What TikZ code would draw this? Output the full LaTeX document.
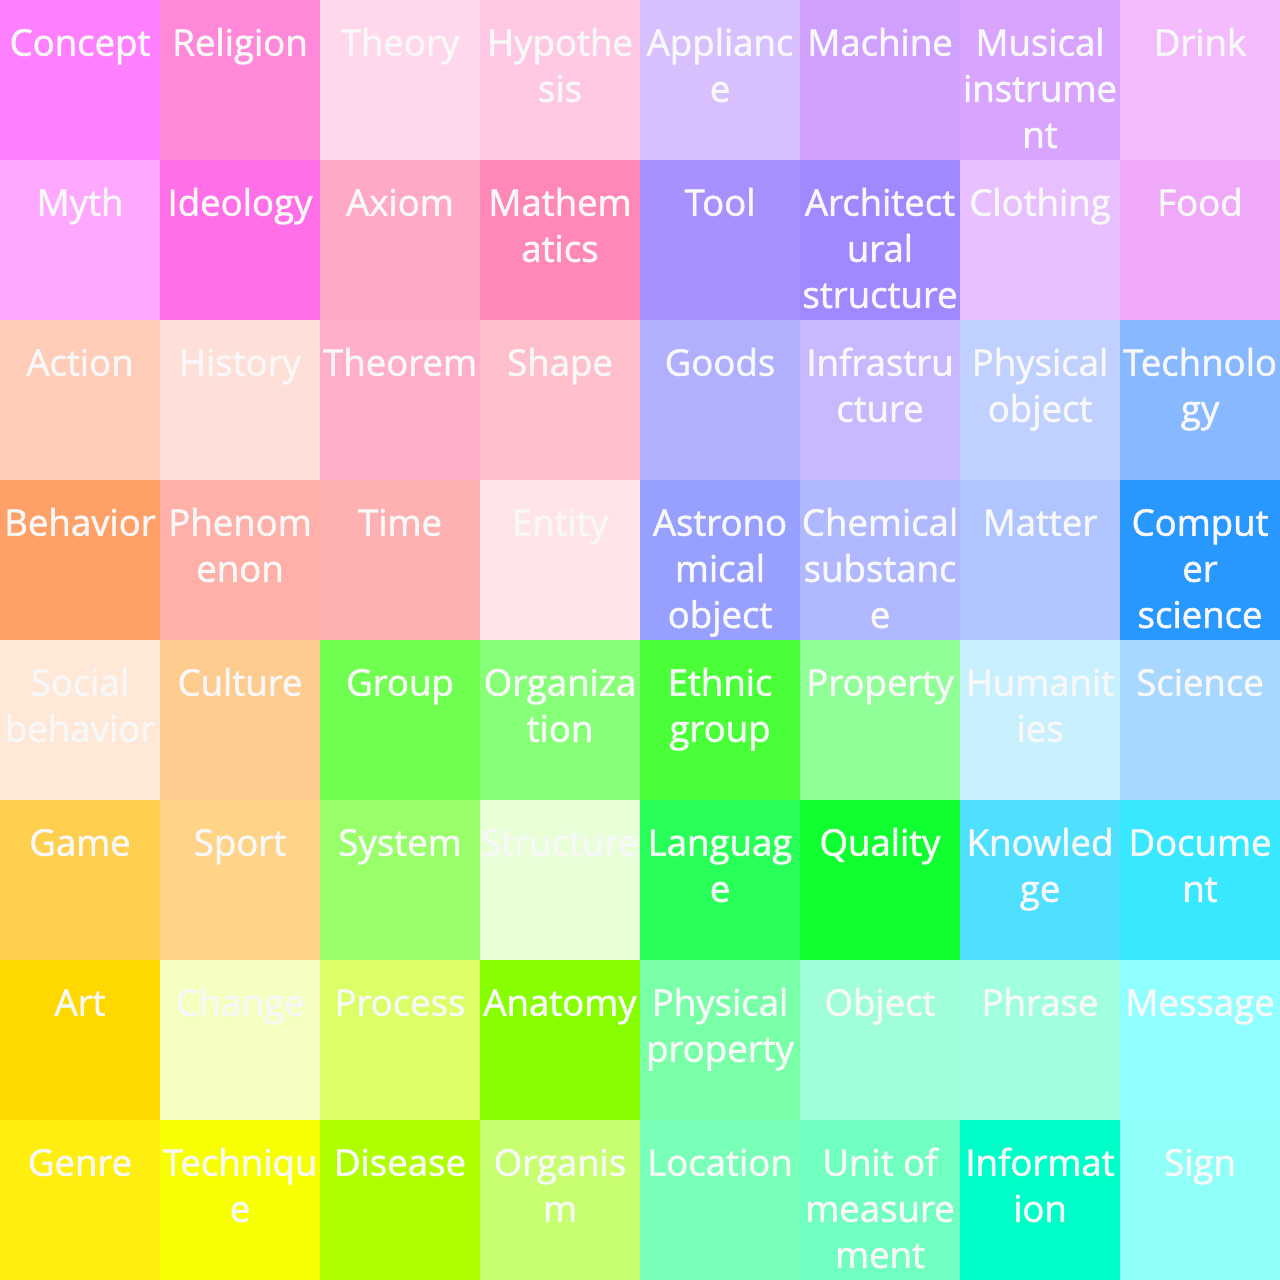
\documentclass[tikz,border=0pt]{standalone}
\usepackage{fontspec}
\usepackage{tikz}
\newfontfamily\cellfont{Open Sans}[BoldFont={Open Sans}, BoldFeatures={FakeBold=1.5}]
\definecolor{texte}{HTML}{F8F8F8}
\tikzset{
  case/.style={anchor=north, inner sep=0pt, align=center, text=texte,
    font=\cellfont\bfseries\fontsize{13}{16.4}\selectfont},
}

\begin{document}
\begin{tikzpicture}
    \useasboundingbox (0,0) rectangle (16,-16);
    % Grille : rangee, puis couleur/libelle de chaque case
    \foreach \j/\ligne in {
      0/{FF80FF/Concept, FF88D8/Religion, FFD8EE/Theory, FFC8E4/{Hypothe\\sis},
         D8C0FF/{Applianc\\e}, D0A0FF/Machine, D8A4FF/{Musical\\instrume\\nt}, F4BCFF/Drink},
      1/{FFA8FF/Myth, FF70E8/Ideology, FFA8C8/Axiom, FF88B8/{Mathem\\atics},
         A890FF/Tool, A088FF/{Architect\\ural\\structure}, E8C0FF/Clothing, F0A8F8/Food},
      2/{FFCCB8/Action, FFE0D8/History, FFB0C8/Theorem, FFC0CC/Shape,
         B0B0FF/Goods, C8B8FF/{Infrastru\\cture}, C0D0FF/{Physical\\object}, 88B8FF/{Technolo\\gy}},
      3/{FFA068/Behavior, FFB0A8/{Phenom\\enon}, FFB0B0/Time, FFE4E8/Entity,
         98A0FF/{Astrono\\mical\\object}, B0B8FF/{Chemical\\substanc\\e}, B0C4FF/Matter, 2898FF/{Comput\\er\\science}},
      4/{FFE8D8/{Social\\behavior}, FFCC90/Culture, 70FF50/Group, 88FF78/{Organiza\\tion},
         48FF38/{Ethnic\\group}, 90FF98/Property, C8F0FF/{Humanit\\ies}, A8D8FF/Science},
      5/{FFD050/Game, FFD488/Sport, 98FF68/System, E8FFD8/Structure,
         28FF58/{Languag\\e}, 10FF30/Quality, 50E0FF/{Knowled\\ge}, 38E8FF/{Docume\\nt}},
      6/{FFD800/Art, F4FFC0/Change, DCFF68/Process, 88FF00/Anatomy,
         78FFA8/{Physical\\property}, A0FFD8/Object, A0FFE0/Phrase, 90FFFF/Message},
      7/{FFEE10/Genre, F8FF00/{Techniqu\\e}, B0FF00/Disease, C8FF70/{Organis\\m},
         78FFB8/Location, 70FFC0/{Unit of\\measure\\ment}, 00FFC8/{Informat\\ion}, 90FFF8/Sign}} {
      \foreach \hex/\lab [count=\i from 0] in \ligne {
        \definecolor{fond}{HTML}{\hex}
        \fill[fond] (2*\i,-2*\j) rectangle ++(2,-2);
        \node[case] (c\j-\i) at (2*\i+1,-2*\j-0.285) {\strut\lab};
      }
    }
\end{tikzpicture}
\end{document}
